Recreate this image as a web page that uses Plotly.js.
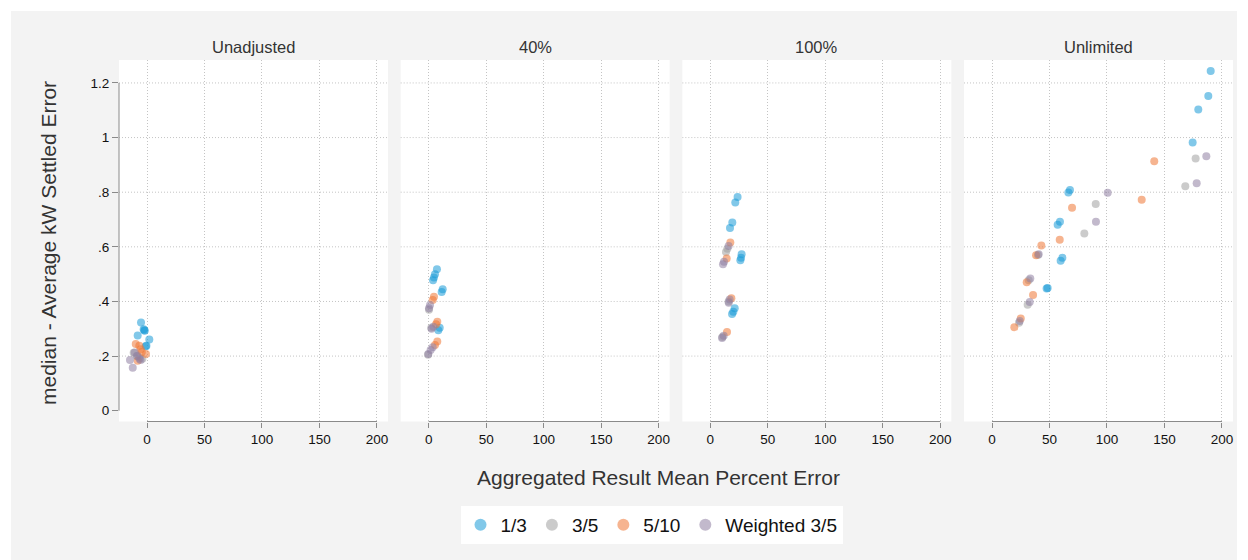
<!DOCTYPE html>
<html>
<head>
<meta charset="utf-8">
<script src="https://cdn.plot.ly/plotly-3.0.1.min.js"></script>
<style>
  html, body { margin: 0; padding: 0; background: #ffffff; }
  #chart { width: 1248px; height: 560px; }
</style>
</head>
<body>
<div id="chart"></div>
<script>
// Panels (cap scenarios) and series (sampling rules)
const panels = ['Unadjusted', '40%', '100%', 'Unlimited'];
const seriesNames = ['1/3', '3/5', '5/10', 'Weighted 3/5'];
const seriesColors = ['#1a9bd7', '#a0a0a0', '#ee7734', '#8f80a3'];

// Aggregated result mean percent error (x) and median average kW settled error (y),
// one list per panel in the order of `panels`.
const oneThirdX = [
  [-5.2, -2.9, -2.3, -2.0, -8.1, 2.0, -1.1, -0.5],
  [7.2, 5.5, 4.6, 3.8, 12.2, 11.3, 9.6, 8.4],
  [23.7, 21.7, 19.1, 17.1, 27.2, 26.7, 26.1, 21.2, 20.0, 18.9],
  [190.2, 188.1, 179.4, 174.5, 67.8, 66.4, 59.1, 57.1, 61.2, 59.7, 48.4, 47.5]
];
const oneThirdY = [
  [0.323, 0.298, 0.295, 0.293, 0.275, 0.261, 0.236, 0.238],
  [0.518, 0.500, 0.488, 0.478, 0.445, 0.435, 0.304, 0.295],
  [0.782, 0.762, 0.689, 0.669, 0.573, 0.560, 0.551, 0.375, 0.362, 0.354],
  [1.244, 1.152, 1.103, 0.982, 0.808, 0.799, 0.692, 0.681, 0.560, 0.549, 0.449, 0.447]
];

const threeFifthsX = [
  [-11.6, -7.0, -9.0, -4.0],
  [0.3, 2.3, -0.5],
  [14.8, 13.6, 15.9, 10.5],
  [177.1, 168.1, 90.2, 80.3, 40.0, 31.9, 31.0, 23.5]
];
const threeFifthsY = [
  [0.212, 0.197, 0.200, 0.190],
  [0.370, 0.304, 0.205],
  [0.593, 0.581, 0.400, 0.270],
  [0.923, 0.822, 0.757, 0.649, 0.570, 0.478, 0.388, 0.322]
];

const fiveTenthsX = [
  [-9.8, -6.7, -5.5, -0.9, -8.1, -4.5],
  [4.6, 3.5, 7.5, 6.4, 7.5, 5.5],
  [17.4, 14.2, 18.3, 14.5],
  [141.1, 130.2, 69.6, 58.9, 42.9, 38.3, 30.2, 35.7, 25.0, 19.4]
];
const fiveTenthsY = [
  [0.244, 0.238, 0.225, 0.208, 0.183, 0.215],
  [0.417, 0.405, 0.326, 0.317, 0.253, 0.241],
  [0.616, 0.557, 0.412, 0.288],
  [0.913, 0.772, 0.743, 0.626, 0.605, 0.569, 0.470, 0.424, 0.338, 0.306]
];

const weightedX = [
  [-10.7, -14.8, -12.4, -5.5, -8.5, -6.5],
  [1.2, 0.3, 4.1, 2.5, 3.5, 1.7, -0.3],
  [15.9, 11.9, 11.0, 16.8, 16.0, 11.6, 10.2],
  [186.4, 178.0, 100.6, 90.4, 40.6, 33.3, 32.8, 24.1]
];
const weightedY = [
  [0.213, 0.186, 0.157, 0.186, 0.200, 0.190],
  [0.387, 0.375, 0.307, 0.300, 0.232, 0.222, 0.208],
  [0.603, 0.545, 0.536, 0.407, 0.395, 0.274, 0.266],
  [0.932, 0.833, 0.798, 0.692, 0.573, 0.484, 0.398, 0.328]
];

// Axis ticks
const xTickVals = [0, 50, 100, 150, 200];
const xTickText = ['0', '50', '100', '150', '200'];
const yTickVals = [0, 0.2, 0.4, 0.6, 0.8, 1.0, 1.2];
const yTickText = ['0', '.2', '.4', '.6', '.8', '1', '1.2'];

const seriesX = [oneThirdX, threeFifthsX, fiveTenthsX, weightedX];
const seriesY = [oneThirdY, threeFifthsY, fiveTenthsY, weightedY];

// ---- page geometry (pixels) ----
const W = 1248, H = 560;
const FONT = 'Liberation Sans, Arial, Helvetica, sans-serif';
const panelLeft = 119, panelStep = 281.67, panelWidth = 269;
const plotTop = 60, plotBottom = 421.5;
const fx = px => px / W;
const fy = py => 1 - py / H;

const axisGrey = '#8a8a8a';
const gridGrey = '#c4c4c4';

const traces = [];
seriesNames.forEach((name, s) => {
  panels.forEach((p, i) => {
    const suffix = i === 0 ? '' : String(i + 1);
    traces.push({
      type: 'scatter',
      mode: 'markers',
      name: name,
      legendgroup: name,
      showlegend: i === 0,
      x: seriesX[s][i],
      y: seriesY[s][i],
      xaxis: 'x' + suffix,
      yaxis: 'y' + suffix,
      marker: { color: seriesColors[s], size: 8, opacity: 0.55, line: { width: 0 } },
      hoverinfo: 'x+y+name'
    });
  });
});

const layout = {
  width: W,
  height: H,
  margin: { l: 0, r: 0, t: 0, b: 0 },
  paper_bgcolor: '#f3f3f3',
  plot_bgcolor: '#ffffff',
  font: { family: FONT, color: '#111111' },
  showlegend: true,
  legend: {
    orientation: 'h',
    x: fx(651.5), xanchor: 'center',
    y: fy(506), yanchor: 'top',
    bgcolor: '#ffffff',
    font: { family: FONT, size: 19, color: '#111111' },
    itemsizing: 'constant'
  },
  shapes: [],
  annotations: []
};

panels.forEach((p, i) => {
  const suffix = i === 0 ? '' : String(i + 1);
  const left = panelLeft + panelStep * i;
  layout['xaxis' + suffix] = {
    domain: [fx(left), fx(left + panelWidth)],
    anchor: 'y' + suffix,
    range: [-24.35, 209.6],
    tickmode: 'array',
    tickvals: xTickVals,
    ticktext: xTickText,
    ticks: 'outside',
    ticklen: 5,
    tickcolor: axisGrey,
    tickfont: { family: FONT, size: 13.5, color: '#111111' },
    showline: false,
    zeroline: false,
    showgrid: true,
    gridcolor: gridGrey,
    griddash: '1px,2px',
    gridwidth: 1,
    fixedrange: true
  };
  layout['yaxis' + suffix] = {
    domain: [fy(plotBottom), fy(plotTop)],
    anchor: 'x' + suffix,
    range: [-0.0395, 1.284],
    tickmode: 'array',
    tickvals: yTickVals,
    ticktext: yTickText,
    showticklabels: i === 0,
    ticks: i === 0 ? 'outside' : '',
    ticklen: 6,
    tickcolor: axisGrey,
    tickfont: { family: FONT, size: 13.5, color: '#111111' },
    showline: false,
    zeroline: false,
    showgrid: false,
    fixedrange: true
  };

  // x axis line spanning the tick range
  layout.shapes.push({
    type: 'line', xref: 'x' + suffix, yref: 'y' + suffix + ' domain',
    x0: xTickVals[0], x1: xTickVals[xTickVals.length - 1], y0: 0, y1: 0,
    line: { color: axisGrey, width: 1 }
  });

  // horizontal dotted gridlines above zero
  yTickVals.filter(v => v > 0).forEach(v => {
    layout.shapes.push({
      type: 'line', xref: 'x' + suffix + ' domain', yref: 'y' + suffix,
      x0: 0, x1: 1, y0: v, y1: v, layer: 'below',
      line: { color: gridGrey, width: 1, dash: '1px,2px' }
    });
  });

  // panel heading
  layout.annotations.push({
    text: p, xref: 'x' + suffix + ' domain', yref: 'paper',
    x: 0.5, y: fy(47), xanchor: 'center', yanchor: 'middle',
    showarrow: false, font: { family: FONT, size: 16.5, color: '#333333' }
  });
});

// y axis line spanning the tick range (first panel only)
layout.shapes.push({
  type: 'line', xref: 'x domain', yref: 'y',
  x0: 0, x1: 0, y0: yTickVals[0], y1: yTickVals[yTickVals.length - 1],
  line: { color: axisGrey, width: 1 }
});

// white border strips around the grey graph region
layout.shapes.push(
  { type: 'rect', xref: 'paper', yref: 'paper', x0: 0, x1: 1, y0: fy(11), y1: 1,
    fillcolor: '#ffffff', line: { width: 0 }, layer: 'below' },
  { type: 'rect', xref: 'paper', yref: 'paper', x0: 0, x1: fx(11), y0: 0, y1: 1,
    fillcolor: '#ffffff', line: { width: 0 }, layer: 'below' },
  { type: 'rect', xref: 'paper', yref: 'paper', x0: fx(1237), x1: 1, y0: 0, y1: 1,
    fillcolor: '#ffffff', line: { width: 0 }, layer: 'below' }
);

// axis titles
layout.annotations.push(
  {
    text: 'median - Average kW Settled Error', xref: 'paper', yref: 'paper',
    x: fx(48), y: fy(243), xanchor: 'center', yanchor: 'middle', textangle: -90,
    showarrow: false, font: { family: FONT, size: 21, color: '#333333' }
  },
  {
    text: 'Aggregated Result Mean Percent Error', xref: 'paper', yref: 'paper',
    x: fx(658), y: fy(477), xanchor: 'center', yanchor: 'middle',
    showarrow: false, font: { family: FONT, size: 21, color: '#333333' }
  }
);

Plotly.newPlot('chart', traces, layout, { displayModeBar: false, staticPlot: false });
</script>
</body>
</html>
